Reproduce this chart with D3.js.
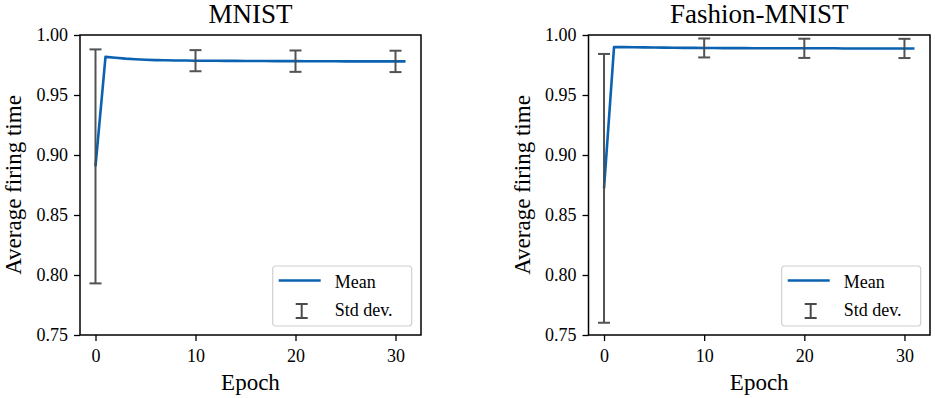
<!DOCTYPE html>
<html>
<head>
<meta charset="utf-8">
<script src="https://cdn.jsdelivr.net/npm/d3@7"></script>
<style>
  html, body { margin: 0; padding: 0; background: #fff; }
  svg { display: block; }
</style>
</head>
<body>
<svg id="chart" width="935" height="398"></svg>
<script>
// ---- data ----
const epochs = d3.range(0, 32);
const mnistMean = [0.8905, 0.9818, 0.9810, 0.9803, 0.9798, 0.9794, 0.9791, 0.9789, 0.9788, 0.9787,
  0.9786, 0.9785, 0.9785, 0.9784, 0.9784, 0.9783, 0.9783, 0.9783, 0.9782, 0.9782,
  0.9782, 0.9781, 0.9781, 0.9781, 0.9781, 0.9780, 0.9780, 0.9780, 0.9780, 0.9780, 0.9780, 0.9780];
const fashionMean = [0.8722, 0.9900, 0.9899, 0.9898, 0.9897, 0.9896, 0.9895, 0.9894, 0.9893, 0.9893,
  0.9892, 0.9892, 0.9891, 0.9891, 0.9891, 0.9890, 0.9890, 0.9890, 0.9890, 0.9889,
  0.9889, 0.9889, 0.9889, 0.9889, 0.9888, 0.9888, 0.9888, 0.9888, 0.9888, 0.9888, 0.9888, 0.9888];
const errEpochs = [0, 10, 20, 30];
const mnistStd = [0.0975, 0.0088, 0.0089, 0.0089];
const fashionStd = [0.1120, 0.0079, 0.0080, 0.0080];
const titles = ["MNIST", "Fashion-MNIST"];
const xTicks = [0, 10, 20, 30];
const yTicks = [0.75, 0.80, 0.85, 0.90, 0.95, 1.00];
const xLabel = "Epoch";
const yLabel = "Average firing time";
const legendLabels = ["Mean", "Std dev."];

// ---- style / layout ----
const FONT = "'Liberation Serif', 'Times New Roman', serif";
const lineColor = "#0a62b0";
const errColor = "#4a4a4a";
const plotTop = 35, plotBottom = 335;
const panels = [
  { title: titles[0], mean: mnistMean, std: mnistStd, left: 80, right: 421 },
  { title: titles[1], mean: fashionMean, std: fashionStd, left: 588.5, right: 930 }
];

const svg = d3.select("#chart");

function txt(sel, size) {
  return sel.style("font-family", FONT).style("font-size", size + "px").style("fill", "#000");
}

panels.forEach(p => {
  const x = d3.scaleLinear().domain([-1.55, 32.55]).range([p.left, p.right]);
  const y = d3.scaleLinear().domain([0.75, 1.00]).range([plotBottom, plotTop]);
  const g = svg.append("g");

  // mean line
  const line = d3.line().x((d, i) => x(epochs[i])).y(d => y(d));
  g.append("path").datum(p.mean)
    .attr("d", line).attr("fill", "none")
    .attr("stroke", lineColor).attr("stroke-width", 2.6)
    .attr("stroke-linejoin", "round");

  // error bars
  const cap = 6;
  errEpochs.forEach((e, i) => {
    const m = p.mean[e], s = p.std[i];
    const cx = x(e), y1 = y(m + s), y2 = y(m - s);
    const eb = g.append("g").attr("stroke", errColor).attr("stroke-width", 2).attr("opacity", 0.95);
    eb.append("line").attr("x1", cx).attr("x2", cx).attr("y1", y1).attr("y2", y2);
    eb.append("line").attr("x1", cx - cap).attr("x2", cx + cap).attr("y1", y1).attr("y2", y1);
    eb.append("line").attr("x1", cx - cap).attr("x2", cx + cap).attr("y1", y2).attr("y2", y2);
  });

  // axes
  const xAxis = d3.axisBottom(x).tickValues(xTicks).tickSize(6).tickPadding(8).tickFormat(d3.format("d"));
  const yAxis = d3.axisLeft(y).tickValues(yTicks).tickSize(6).tickPadding(6).tickFormat(d3.format(".2f"));
  const gx = g.append("g").attr("transform", `translate(0,${plotBottom})`).call(xAxis);
  const gy = g.append("g").attr("transform", `translate(${p.left},0)`).call(yAxis);
  [gx, gy].forEach(a => {
    a.attr("font-family", null).attr("font-size", null);
    a.select(".domain").remove();
    a.selectAll(".tick line").attr("stroke", "#000").attr("stroke-width", 1.3);
    txt(a.selectAll(".tick text"), 18);
  });

  // frame
  g.append("rect").attr("x", p.left).attr("y", plotTop)
    .attr("width", p.right - p.left).attr("height", plotBottom - plotTop)
    .attr("fill", "none").attr("stroke", "#000").attr("stroke-width", 1.5);

  // title
  txt(g.append("text").attr("x", (p.left + p.right) / 2).attr("y", 23)
    .attr("text-anchor", "middle"), 27).text(p.title);

  // x label
  txt(g.append("text").attr("x", (p.left + p.right) / 2).attr("y", 390)
    .attr("text-anchor", "middle"), 23).text(xLabel);

  // y label
  txt(g.append("text")
    .attr("transform", `translate(${p.left - 59},${(plotTop + plotBottom) / 2}) rotate(-90)`)
    .attr("text-anchor", "middle"), 23).text(yLabel);

  // legend
  const lw = 139, lh = 60;
  const lx = p.right - 9.3 - lw, ly = plotBottom - 9 - lh;
  const lg = g.append("g").attr("transform", `translate(${lx},${ly})`);
  lg.append("rect").attr("width", lw).attr("height", lh).attr("rx", 3).attr("ry", 3)
    .attr("fill", "#fff").attr("fill-opacity", 0.85)
    .attr("stroke", "#d0d0d0").attr("stroke-width", 1.2);
  lg.append("line").attr("x1", 6).attr("x2", 48).attr("y1", 14.5).attr("y2", 14.5)
    .attr("stroke", lineColor).attr("stroke-width", 2.6);
  txt(lg.append("text").attr("x", 62).attr("y", 21.5), 18).text(legendLabels[0]);
  const le = lg.append("g").attr("stroke", errColor).attr("stroke-width", 2);
  le.append("line").attr("x1", 29).attr("x2", 29).attr("y1", 38).attr("y2", 52);
  le.append("line").attr("x1", 23).attr("x2", 35).attr("y1", 38).attr("y2", 38);
  le.append("line").attr("x1", 23).attr("x2", 35).attr("y1", 52).attr("y2", 52);
  txt(lg.append("text").attr("x", 62).attr("y", 49.5), 18).text(legendLabels[1]);
});
</script>
</body>
</html>
